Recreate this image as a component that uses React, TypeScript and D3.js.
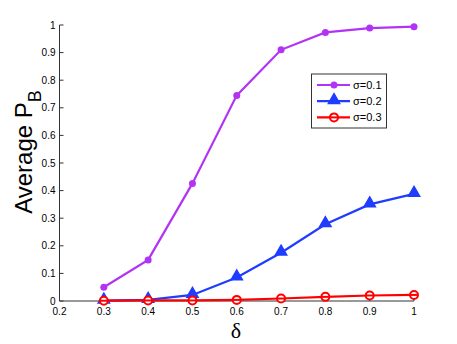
import { useEffect, useRef } from 'react'
import * as d3 from 'd3'

const deltas = [0.3, 0.4, 0.5, 0.6, 0.7, 0.8, 0.9, 1]
const sigma01 = [0.05, 0.149, 0.426, 0.745, 0.91, 0.973, 0.989, 0.994]
const sigma02 = [0.001, 0.004, 0.022, 0.085, 0.175, 0.278, 0.35, 0.388]
const sigma03 = [0.001, 0.002, 0.002, 0.004, 0.009, 0.015, 0.02, 0.022]
const seriesNames = ['σ=0.1', 'σ=0.2', 'σ=0.3']
const xTicks = [0.2, 0.3, 0.4, 0.5, 0.6, 0.7, 0.8, 0.9, 1]
const yTicks = [0, 0.1, 0.2, 0.3, 0.4, 0.5, 0.6, 0.7, 0.8, 0.9, 1]

const App = () => {
  const ref = useRef<SVGSVGElement>(null)

  useEffect(() => {
    const svg = d3.select(ref.current)
    svg.selectAll('*').remove()

    const x = d3.scaleLinear().domain([0.2, 1]).range([59.5, 414])
    const y = d3.scaleLinear().domain([0, 1]).range([301, 25])
    const font = 'Liberation Sans, Arial, sans-serif'

    const series = [
      { name: seriesNames[0], values: sigma01, color: '#b233f5', marker: 'dot' },
      { name: seriesNames[1], values: sigma02, color: '#1f3cff', marker: 'tri' },
      { name: seriesNames[2], values: sigma03, color: '#ff0000', marker: 'ring' },
    ]

    // axes
    const ax = svg.append('g').attr('font-family', font).attr('font-size', 10)
    ax.append('line').attr('x1', x(0.2)).attr('x2', x(1)).attr('y1', y(0)).attr('y2', y(0)).attr('stroke', '#333')
    ax.append('line').attr('x1', x(0.2)).attr('x2', x(0.2)).attr('y1', y(0)).attr('y2', y(1)).attr('stroke', '#333')

    ax.selectAll('.yt').data(yTicks).enter().append('line')
      .attr('x1', x(0.2)).attr('x2', x(0.2) + 4)
      .attr('y1', d => y(d)).attr('y2', d => y(d)).attr('stroke', '#333')
    ax.selectAll('.yl').data(yTicks).enter().append('text')
      .attr('x', x(0.2) - 4).attr('y', d => y(d) + 3.5)
      .attr('text-anchor', 'end').text(d => d3.format('')(d))

    ax.selectAll('.xt').data(xTicks).enter().append('line')
      .attr('x1', d => x(d)).attr('x2', d => x(d))
      .attr('y1', y(0)).attr('y2', y(0) - 4).attr('stroke', '#333')
    ax.selectAll('.xl').data(xTicks).enter().append('text')
      .attr('x', d => x(d)).attr('y', y(0) + 14)
      .attr('text-anchor', 'middle').text(d => d3.format('')(d))

    // axis titles
    svg.append('text')
      .attr('transform', 'translate(32,152) rotate(-90)')
      .attr('text-anchor', 'middle')
      .attr('font-family', font).attr('font-size', 24)
      .html('Average P<tspan dy="9" font-size="18">B</tspan>')
    svg.append('text')
      .attr('x', 236).attr('y', 338)
      .attr('text-anchor', 'middle')
      .attr('font-family', 'Liberation Serif, serif').attr('font-size', 22)
      .text('δ')

    const line = d3.line<number>().x((_, i) => x(deltas[i])).y(d => y(d))

    const drawMarker = (g: any, kind: string, color: string, cx: number, cy: number) => {
      if (kind === 'dot') {
        g.append('circle').attr('cx', cx).attr('cy', cy).attr('r', 3.5).attr('fill', color)
      } else if (kind === 'tri') {
        const tri = d3.symbol().type(d3.symbolTriangle).size(55)
        g.append('path').attr('d', tri()).attr('transform', `translate(${cx},${cy - 1})`)
          .attr('fill', color).attr('stroke', color).attr('stroke-width', 1.5)
      } else {
        g.append('circle').attr('cx', cx).attr('cy', cy).attr('r', 4)
          .attr('fill', 'white').attr('stroke', color).attr('stroke-width', 2)
        g.append('line').attr('x1', cx - 4).attr('x2', cx + 4).attr('y1', cy).attr('y2', cy)
          .attr('stroke', color).attr('stroke-width', 2)
      }
    }

    series.forEach(s => {
      const g = svg.append('g')
      g.append('path').datum(s.values).attr('d', line)
        .attr('fill', 'none').attr('stroke', s.color).attr('stroke-width', 2.2)
      s.values.forEach((v, i) => drawMarker(g, s.marker, s.color, x(deltas[i]), y(v)))
    })

    // legend
    const lg = svg.append('g').attr('font-family', font).attr('font-size', 11)
    lg.append('rect').attr('x', 311.5).attr('y', 74).attr('width', 75).attr('height', 54)
      .attr('fill', 'white').attr('stroke', '#333').attr('stroke-width', 1)
    series.forEach((s, i) => {
      const ly = 85 + i * 16.2
      lg.append('line').attr('x1', 317).attr('x2', 350).attr('y1', ly).attr('y2', ly)
        .attr('stroke', s.color).attr('stroke-width', 2.2)
      drawMarker(lg, s.marker, s.color, 334, ly)
      lg.append('text').attr('x', 353).attr('y', ly + 4).text(s.name)
    })
  }, [])

  return (
    <svg ref={ref} width={457} height={344} style={{ display: 'block', position: 'absolute', left: 0, top: 0 }} />
  )
}

export default App
